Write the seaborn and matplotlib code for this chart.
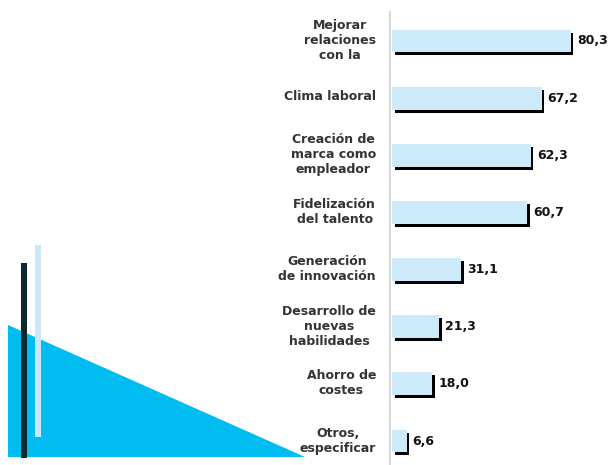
import matplotlib
matplotlib.use("Agg")
import matplotlib.pyplot as plt
import matplotlib.transforms as mtransforms
from matplotlib.patches import Polygon, Rectangle
import seaborn as sns
import pandas as pd

categories = [
    "Mejorar\nrelaciones\ncon la",
    "Clima laboral",
    "Creación de\nmarca como\nempleador",
    "Fidelización\ndel talento",
    "Generación\nde innovación",
    "Desarrollo de\nnuevas\nhabilidades",
    "Ahorro de\ncostes",
    "Otros,\nespecificar",
]
values = [80.3, 67.2, 62.3, 60.7, 31.1, 21.3, 18.0, 6.6]

df = pd.DataFrame({"categoria": categories, "valor": values})

sns.set_theme(style="white")
plt.rcParams["font.family"] = ["DejaVu Sans"]

W, H, DPI = 609, 465, 100
fig = plt.figure(figsize=(W / DPI, H / DPI), dpi=DPI)
fig.patch.set_facecolor("white")

# Decorative shapes on the left side of the figure (pixel -> figure fraction)
def fx(px):
    return px / W

def fy(py):
    return 1 - py / H

tri = Polygon([(fx(8), fy(325)), (fx(8), fy(457)), (fx(305), fy(457))],
              closed=True, transform=fig.transFigure, facecolor="#00bcf0",
              edgecolor="none", zorder=0)
fig.add_artist(tri)
dark = Rectangle((fx(21), fy(458)), fx(27) - fx(21), fy(263) - fy(458),
                 transform=fig.transFigure, facecolor="#0b2a30",
                 edgecolor="none", zorder=1)
fig.add_artist(dark)
light = Rectangle((fx(35), fy(437)), fx(41) - fx(35), fy(245) - fy(437),
                  transform=fig.transFigure, facecolor="#c9e9fb",
                  edgecolor="none", zorder=1)
fig.add_artist(light)

# Bar chart area
ax = fig.add_axes([fx(390), 0.0, 1 - fx(390), fy(12.4)])
ax.set_facecolor("none")

bar_w = 0.4
# shadow bars, shifted right/down
sns.barplot(data=df, x="valor", y="categoria", orient="h", color="black",
            width=bar_w, saturation=1, linewidth=0, ax=ax)
shift = mtransforms.ScaledTranslation(2.5 / DPI, -3 / DPI, fig.dpi_scale_trans)
for p in ax.patches:
    p.set_transform(ax.transData + shift)

sns.barplot(data=df, x="valor", y="categoria", orient="h", color="#cdeafb",
            width=bar_w, saturation=1, linewidth=0, ax=ax)

for i, v in enumerate(values):
    ax.annotate(f"{v:.1f}".replace(".", ","), xy=(v, i), xytext=(6, 0),
                textcoords="offset pixels", ha="left", va="center",
                fontsize=9, fontweight="bold", color="#111111")

scale = 2.225
ax.set_xlim(-2.0 / scale, (W - 392.3) / scale)
ax.set_ylim(7 + (H - 441) / 57.15, -0.5)

ax.set_xlabel("")
ax.set_ylabel("")
ax.set_xticks([])
ax.set_yticks(range(len(categories)))
ax.set_yticklabels(categories)
ax.tick_params(axis="y", length=0, pad=10)
lift = mtransforms.ScaledTranslation(0, 3 / DPI, fig.dpi_scale_trans)
for lab in ax.get_yticklabels():
    lab.set_horizontalalignment("right")
    lab.set_multialignment("center")
    lab.set_fontsize(9)
    lab.set_fontweight("bold")
    lab.set_color("#333333")
    lab.set_transform(lab.get_transform() + lift)

for s in ["top", "right", "bottom"]:
    ax.spines[s].set_visible(False)
ax.spines["left"].set_color("#d8d8d8")
ax.spines["left"].set_linewidth(1.5)

fig.savefig("out.png", dpi=DPI, facecolor="white")
